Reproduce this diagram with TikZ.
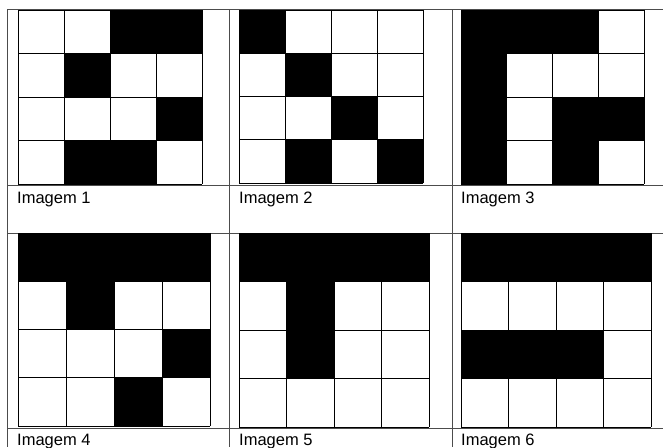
\documentclass[tikz,border=0pt]{standalone}
\usepackage{fontspec}
\setmainfont{Liberation Sans}

% one 4x4 picture: origin x, origin y, cell width, cell height, black cells
\newcommand{\pixgrid}[5]{%
  \begin{scope}[shift={(#1,#2)},x={(#3pt,0)},y={(0,-#4pt)}]
    \foreach \c/\r in {#5}
      \fill (\c,\r) rectangle +(1,1);
    \foreach \k in {0,...,4} {
      \draw[line width=0.7pt] (\k,0) -- (\k,4);
      \draw[line width=0.7pt] (0,\k) -- (4,\k);
    }
  \end{scope}}

\begin{document}
\begin{tikzpicture}[x=1pt,y=-1pt,
    tabline/.style={line width=0.8pt,black!70},
    caption/.style={anchor=base west,inner sep=0pt,
      font=\fontsize{16.5}{18}\selectfont}]
  \useasboundingbox (0,0) rectangle (663,447);

  % table
  \draw[tabline] (7,9) -- (663,9);
  \draw[tabline] (7,185) -- (663,185);
  \draw[tabline] (7,233) -- (663,233);
  \draw[tabline] (7,428) -- (663,428);
  \draw[tabline] (7,9) -- (7,447);
  \draw[tabline] (229,9) -- (229,447);
  \draw[tabline] (452,9) -- (452,447);

  % pictures
  \pixgrid{18}{10}{46}{43.5}{2/0,3/0,1/1,3/2,1/3,2/3}
  \pixgrid{239}{10}{46}{43.25}{0/0,1/1,2/2,1/3,3/3}
  \pixgrid{461}{10}{45.75}{43.5}{0/0,1/0,2/0,0/1,0/2,2/2,3/2,0/3,2/3}
  \pixgrid{18}{233}{48}{48.25}{0/0,1/0,2/0,3/0,1/1,3/2,2/3}
  \pixgrid{239}{233}{47.5}{48.5}{0/0,1/0,2/0,3/0,1/1,1/2}
  \pixgrid{461}{233}{47.5}{48.5}{0/0,1/0,2/0,3/0,0/2,1/2,2/2}

  % captions
  \node[caption] (cap1) at (17,203) {Imagem 1};
  \node[caption] (cap2) at (239,203) {Imagem 2};
  \node[caption] (cap3) at (461,203) {Imagem 3};
  \node[caption] (cap4) at (17,445) {Imagem 4};
  \node[caption] (cap5) at (239,445) {Imagem 5};
  \node[caption] (cap6) at (461,445) {Imagem 6};
\end{tikzpicture}
\end{document}
